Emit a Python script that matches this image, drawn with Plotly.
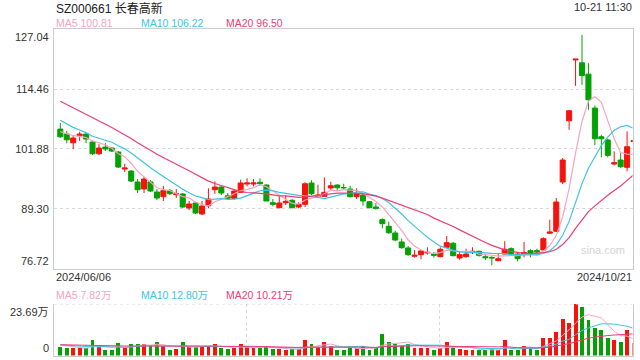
import plotly.graph_objects as go

W, H = 640, 360

# ---------------- data ----------------
opens = [106.05, 105.00, 103.17, 104.64, 105.00, 103.32, 100.86, 102.27, 102.06, 101.22,
         97.64, 97.22, 94.91, 93.44, 94.91, 92.81, 91.82, 93.08, 92.24, 92.39,
         89.44, 90.50, 88.18, 89.93, 93.29, 93.86, 92.03, 91.48, 92.74, 94.49,
         94.49, 94.85, 94.28, 90.56, 89.51, 90.56, 91.06, 89.66, 90.22, 94.70,
         91.82, 91.90, 93.65, 94.28, 93.75, 93.44, 91.82, 92.18, 90.77, 89.66,
         86.99, 85.60, 84.19, 82.30, 81.04, 79.29, 79.63, 80.00, 79.75, 79.21,
         81.18, 82.03, 78.93, 79.21, 80.05, 80.34, 79.21, 79.05, 78.37, 79.77,
         80.89, 79.77, 79.77, 80.48, 80.48, 80.62, 84.13, 84.55, 94.91, 107.80,
         120.60, 119.99, 117.61, 110.47, 104.43, 103.74, 98.69, 99.54, 98.00, 103.40]
highs = [107.31, 105.63, 104.64, 105.48, 105.21, 103.53, 102.90, 103.11, 102.27, 101.43,
         98.76, 97.43, 95.54, 95.96, 95.33, 93.44, 94.07, 93.44, 93.44, 92.60,
         90.92, 90.71, 90.92, 93.59, 95.06, 94.00, 92.60, 93.29, 95.40, 95.69,
         95.54, 95.69, 94.42, 91.34, 91.90, 92.03, 91.34, 90.64, 94.85, 95.27,
         94.34, 95.90, 94.97, 94.42, 94.55, 94.13, 93.59, 92.45, 90.92, 90.50,
         87.28, 86.57, 84.67, 82.99, 81.46, 80.62, 80.48, 81.18, 80.20, 81.18,
         83.55, 82.30, 80.34, 80.89, 81.18, 80.48, 79.77, 79.30, 79.77, 82.45,
         81.18, 80.05, 82.30, 80.77, 80.89, 83.28, 86.99, 91.55, 99.96, 110.05,
         120.76, 125.87, 119.92, 111.03, 104.85, 104.01, 101.35, 101.01, 105.57, 104.30]
lows = [104.20, 103.05, 101.85, 103.53, 103.11, 100.59, 100.59, 101.43, 101.22, 97.85,
        97.01, 94.91, 92.60, 92.60, 92.81, 91.13, 90.92, 92.18, 91.55, 89.44,
        89.02, 88.18, 87.97, 89.38, 92.39, 92.18, 91.34, 91.19, 92.60, 94.00,
        94.00, 94.13, 90.92, 89.80, 89.38, 90.08, 89.38, 89.38, 89.66, 92.18,
        91.70, 91.76, 93.02, 93.02, 93.29, 91.70, 91.34, 89.93, 89.38, 89.10,
        85.18, 83.98, 82.45, 80.89, 79.36, 79.00, 78.66, 79.63, 79.00, 79.08,
        80.97, 79.29, 78.58, 79.00, 79.77, 79.21, 78.50, 77.40, 78.30, 79.70,
        79.50, 78.24, 79.08, 79.08, 79.50, 80.48, 83.98, 84.40, 94.49, 105.90,
        115.15, 115.36, 110.11, 102.63, 100.10, 100.10, 98.42, 97.85, 97.16, 101.49]
closes = [104.43, 103.80, 104.16, 105.00, 103.95, 100.86, 102.06, 101.85, 101.43, 98.06,
          97.85, 95.12, 93.29, 95.54, 93.02, 91.55, 93.08, 92.45, 92.45, 89.66,
          90.29, 88.39, 89.87, 91.34, 93.86, 92.60, 91.48, 93.02, 94.70, 94.70,
          94.70, 94.55, 90.92, 90.22, 90.50, 90.85, 89.51, 90.22, 94.55, 92.45,
          92.18, 92.74, 94.13, 93.71, 93.71, 91.82, 92.39, 90.92, 89.51, 89.38,
          86.15, 84.25, 82.72, 81.10, 79.63, 79.50, 80.41, 80.12, 79.50, 80.77,
          82.15, 79.42, 79.63, 79.77, 80.34, 79.50, 79.00, 78.95, 78.79, 80.77,
          79.77, 78.79, 80.05, 79.92, 80.20, 83.00, 84.40, 90.71, 99.54, 109.90,
          120.76, 117.34, 112.21, 104.01, 104.01, 100.52, 98.97, 98.13, 102.33, 103.60]
volumes = [3.87, 3.25, 3.25, 3.25, 3.25, 6.97, 3.87, 2.63, 2.32, 5.57,
           3.87, 5.11, 5.11, 5.11, 4.49, 6.04, 4.18, 2.32, 2.94, 6.04,
           3.87, 3.87, 3.87, 4.49, 5.11, 3.25, 2.94, 3.25, 5.11, 3.87,
           3.56, 3.25, 4.49, 2.94, 2.94, 2.32, 2.94, 2.94, 6.97, 5.11,
           3.87, 6.04, 4.49, 2.63, 2.63, 3.25, 3.25, 4.18, 2.63, 3.56,
           9.75, 6.35, 5.42, 4.18, 5.42, 3.56, 3.56, 3.25, 2.63, 3.25,
           6.04, 3.87, 2.94, 2.63, 2.63, 2.32, 2.63, 2.94, 2.32, 6.97,
           2.63, 2.32, 4.49, 3.25, 2.63, 8.20, 8.20, 11.00, 16.60, 15.00,
           23.69, 22.10, 16.30, 12.85, 11.90, 7.90, 6.97, 6.04, 11.60, 5.57]
# sessions before the first shown day (only feed the moving averages)
pre_closes = [117.5, 118.2, 116.9, 117.8, 116.4, 115.6, 116.2, 114.8, 114.1, 111.5,
              112.0, 110.8, 110.5, 109.6, 108.6, 106.3, 105.9, 105.6, 105.27]
pre_volumes = [5.2, 4.8, 5.5, 4.9, 5.0, 4.6, 5.3, 4.7, 5.1, 4.9,
               5.6, 4.8, 5.0, 5.4, 4.7, 5.2, 4.9, 5.1, 4.6]

price_ticks = [89.30, 101.88, 114.46]
price_tick_text = ["89.30", "101.88", "114.46"]
price_min, price_max = 76.72, 127.04
price_min_text, price_max_text = "76.72", "127.04"
vol_max = 23.69
vol_max_text, vol_min_text = "23.69万", "0"

title_text = "SZ000661 长春高新"
time_text = "10-21 11:30"
start_date, end_date = "2024/06/06", "2024/10/21"
ma_labels = ["MA5 100.81", "MA10 106.22", "MA20 96.50"]
vol_ma_labels = ["MA5 7.82万", "MA10 12.80万", "MA20 10.21万"]
ma_periods = [5, 10, 20]

# ---------------- style ----------------
RED = "#f5140c"
GREEN = "#04a004"
MA_COLORS = ["#f7a3c0", "#3ec3e6", "#eb3d76"]
BORDER = "#cccccc"
GRID = "#d8d8d8"
TEXT = "#333333"
FONT = "Liberation Sans, Arial, Noto Sans CJK SC, sans-serif"

n = len(closes)
x = list(range(n))


def moving_avg(series, pre, p):
    full = list(pre) + list(series)
    off = len(pre)
    return [sum(full[off + i - p + 1: off + i + 1]) / p for i in range(len(series))]


# plot area in pixels
PL, PR = 54, 632.5
MAIN_T, MAIN_B = 29.3, 268.5
VOL_T, VOL_B = 304.0, 355.5
xr = [-0.98, 88.84]


def fx(px):
    return px / W


def fy(py):
    return 1 - py / H


fig = go.Figure()

fig.add_trace(go.Candlestick(
    x=x, open=opens, high=highs, low=lows, close=closes,
    increasing=dict(line=dict(color=RED, width=1), fillcolor=RED),
    decreasing=dict(line=dict(color=GREEN, width=1), fillcolor=GREEN),
    whiskerwidth=0, xaxis="x", yaxis="y", showlegend=False, hoverinfo="skip"))

for p, c in zip(ma_periods, MA_COLORS):
    fig.add_trace(go.Scatter(x=x, y=moving_avg(closes, pre_closes, p), mode="lines",
                             line=dict(color=c, width=1.2), xaxis="x", yaxis="y",
                             showlegend=False, hoverinfo="skip"))

vol_colors = [RED if c >= o else GREEN for o, c in zip(opens, closes)]
fig.add_trace(go.Bar(x=x, y=volumes, marker=dict(color=vol_colors, line=dict(width=0)),
                     width=0.6, xaxis="x2", yaxis="y2", showlegend=False, hoverinfo="skip"))
for p, c in zip(ma_periods, MA_COLORS):
    fig.add_trace(go.Scatter(x=x, y=moving_avg(volumes, pre_volumes, p), mode="lines",
                             line=dict(color=c, width=1), xaxis="x2", yaxis="y2",
                             showlegend=False, hoverinfo="skip"))

xdom = [fx(PL), fx(PR)]
third = (xr[1] - xr[0]) / 3

fig.update_layout(
    width=W, height=H, margin=dict(l=0, r=0, t=0, b=0),
    paper_bgcolor="white", plot_bgcolor="white",
    font=dict(family=FONT, size=11, color=TEXT),
    boxgap=0.1, boxgroupgap=0.13,
    bargap=0,
    xaxis=dict(domain=xdom, range=xr, anchor="y", showgrid=False, showticklabels=False,
               zeroline=False, showline=True, mirror=True, linecolor=BORDER, linewidth=1,
               rangeslider=dict(visible=False), fixedrange=True),
    yaxis=dict(domain=[fy(MAIN_B), fy(MAIN_T)], range=[price_min, price_max], anchor="x",
               tickvals=price_ticks, ticktext=price_tick_text, showgrid=True,
               gridcolor=GRID, griddash="dot", gridwidth=1, zeroline=False,
               showline=True, mirror=True, linecolor=BORDER, linewidth=1,
               ticks="outside", ticklen=2, tickcolor="rgba(0,0,0,0)",
               tickfont=dict(size=11, color=TEXT), fixedrange=True),
    xaxis2=dict(domain=xdom, range=xr, anchor="y2", showticklabels=False,
                tickvals=[xr[0] + third, xr[0] + 2 * third], showgrid=True,
                gridcolor=GRID, griddash="dot", zeroline=False,
                showline=True, mirror=False, linecolor=BORDER, fixedrange=True),
    yaxis2=dict(domain=[fy(VOL_B), fy(VOL_T)], range=[0, vol_max], anchor="x2",
                showticklabels=False, showgrid=False, zeroline=False,
                showline=True, mirror=True, linecolor=BORDER, fixedrange=True),
)

# dotted top line of the volume pane
fig.add_shape(type="line", xref="x2 domain", yref="y2", x0=0, x1=1, y0=vol_max, y1=vol_max,
              line=dict(color=GRID, width=1, dash="dot"))

ann = []
# price axis end labels
ann.append(dict(text=price_max_text, xref="paper", yref="paper", x=fx(51), y=fy(MAIN_T),
                xanchor="right", yanchor="top", showarrow=False, font=dict(size=11, color=TEXT)))
ann.append(dict(text=price_min_text, xref="paper", yref="paper", x=fx(51), y=fy(MAIN_B),
                xanchor="right", yanchor="bottom", showarrow=False, font=dict(size=11, color=TEXT)))
ann.append(dict(text=vol_max_text, xref="paper", yref="paper", x=fx(51), y=fy(VOL_T),
                xanchor="right", yanchor="top", showarrow=False, font=dict(size=11, color=TEXT)))
ann.append(dict(text=vol_min_text, xref="paper", yref="paper", x=fx(51), y=fy(VOL_B),
                xanchor="right", yanchor="bottom", showarrow=False, font=dict(size=11, color=TEXT)))
# title and time
ann.append(dict(text=title_text, xref="paper", yref="paper", x=fx(54), y=fy(8),
                xanchor="left", yanchor="middle", showarrow=False, font=dict(size=12, color="#222")))
ann.append(dict(text=time_text, xref="paper", yref="paper", x=fx(634), y=fy(7),
                xanchor="right", yanchor="middle", showarrow=False, font=dict(size=11, color=TEXT)))
# legends
for lab, c, px in zip(ma_labels, MA_COLORS, [54, 139, 224]):
    ann.append(dict(text=lab, xref="paper", yref="paper", x=fx(px), y=fy(23.5),
                    xanchor="left", yanchor="middle", showarrow=False, font=dict(size=10.5, color=c)))
for lab, c, px in zip(vol_ma_labels, MA_COLORS, [54, 139, 224]):
    ann.append(dict(text=lab, xref="paper", yref="paper", x=fx(px), y=fy(295),
                    xanchor="left", yanchor="middle", showarrow=False, font=dict(size=10.5, color=c)))
# dates
ann.append(dict(text=start_date, xref="paper", yref="paper", x=fx(54), y=fy(277),
                xanchor="left", yanchor="middle", showarrow=False, font=dict(size=11, color=TEXT)))
ann.append(dict(text=end_date, xref="paper", yref="paper", x=fx(634), y=fy(277),
                xanchor="right", yanchor="middle", showarrow=False, font=dict(size=11, color=TEXT)))
# watermark
ann.append(dict(text="sina.com", xref="paper", yref="paper", x=fx(602.5), y=fy(249.5),
                xanchor="center", yanchor="middle", showarrow=False, font=dict(size=11, color="#d4d4d4")))
fig.update_layout(annotations=ann)

fig.write_html("out.html", config=dict(staticPlot=True),
               post_script="document.body.style.margin='0';document.body.style.overflow='hidden';")
